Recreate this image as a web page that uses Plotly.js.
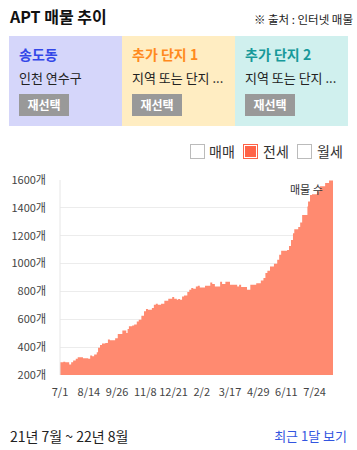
<!DOCTYPE html>
<html><head><meta charset="utf-8">
<script src="https://cdn.plot.ly/plotly-3.0.1.min.js"></script>
<style>
html,body{margin:0;padding:0;background:#fff;}
body{width:357px;height:450px;position:relative;overflow:hidden;font-family:"Noto Sans CJK KR","Noto Sans",sans-serif;color:#222;}
#chart{position:absolute;left:0;top:0;width:357px;height:450px;}
.abs{position:absolute;white-space:nowrap;z-index:2;}
.box{position:absolute;top:36px;height:90px;width:113px;z-index:1;}
.bt{position:absolute;left:10px;top:8px;font-size:14px;font-weight:bold;line-height:20px;}
.bs{position:absolute;left:10px;top:33px;font-size:13px;line-height:18px;color:#222;}
.btn{position:absolute;left:10px;top:58px;width:50px;height:22px;background:#999;color:#fff;font-size:12px;font-weight:bold;line-height:22px;text-align:center;}
.cb{position:absolute;top:144px;width:13px;height:13px;border:1px solid #bbb;background:#fff;z-index:2;}
.cbl{position:absolute;top:141px;font-size:14px;line-height:20px;color:#333;z-index:2;}
</style></head>
<body>
<div id="chart"></div>
<div class="abs" style="left:10px;top:4px;font-size:16px;font-weight:bold;line-height:24px;color:#111;">APT 매물 추이</div>
<div class="abs" style="right:4px;top:10px;font-size:11.5px;line-height:18px;color:#222;">※ 출처 : 인터넷 매물</div>
<div class="box" style="left:9px;background:#D5D6FA;">
  <div class="bt" style="color:#3347E8;">송도동</div>
  <div class="bs">인천 연수구</div>
  <div class="btn">재선택</div>
</div>
<div class="box" style="left:122px;background:#FFEDC2;">
  <div class="bt" style="color:#FF8A1E;">추가 단지 1</div>
  <div class="bs">지역 또는 단지 ...</div>
  <div class="btn">재선택</div>
</div>
<div class="box" style="left:235px;background:#D0F0EE;">
  <div class="bt" style="color:#17999A;">추가 단지 2</div>
  <div class="bs">지역 또는 단지 ...</div>
  <div class="btn">재선택</div>
</div>
<div class="cb" style="left:190px;"></div><div class="cbl" style="left:209px;">매매</div>
<div class="cb" style="left:243px;background:#FF6347;border-color:#FF6347;box-shadow:inset 0 0 0 1px #fff;"></div><div class="cbl" style="left:263px;">전세</div>
<div class="cb" style="left:297px;"></div><div class="cbl" style="left:317px;">월세</div>
<div class="abs" style="left:10px;top:426px;font-size:14px;line-height:20px;color:#222;">21년 7월 ~ 22년 8월</div>
<div class="abs" style="right:10px;top:427px;font-size:13px;line-height:18px;color:#3355E0;">최근 1달 보기</div>
<script>
// 전세 매물 수 (step values)
const dates = [
 '2021-07-01','2021-07-06','2021-07-09','2021-07-15','2021-07-18','2021-07-21','2021-07-25','2021-07-28',
 '2021-08-05','2021-08-13','2021-08-16','2021-08-19','2021-08-22','2021-08-26','2021-08-28','2021-08-31',
 '2021-09-03','2021-09-08','2021-09-12','2021-09-15','2021-09-23','2021-09-27',
 '2021-10-04','2021-10-10','2021-10-12','2021-10-14','2021-10-19','2021-10-22','2021-10-26','2021-10-29',
 '2021-11-02','2021-11-06','2021-11-09','2021-11-12','2021-11-18','2021-11-21','2021-11-24','2021-11-27',
 '2021-12-02','2021-12-07','2021-12-13','2021-12-19','2021-12-22','2021-12-26','2021-12-28','2021-12-31',
 '2022-01-03','2022-01-06','2022-01-11','2022-01-14','2022-01-17','2022-01-20','2022-01-24','2022-01-27','2022-01-30',
 '2022-02-07','2022-02-15','2022-02-18','2022-02-22',
 '2022-03-02','2022-03-05','2022-03-10','2022-03-17','2022-03-28','2022-03-31',
 '2022-04-03','2022-04-12','2022-04-17','2022-04-26',
 '2022-05-03','2022-05-07','2022-05-10','2022-05-13','2022-05-17','2022-05-23','2022-05-28','2022-05-31',
 '2022-06-03','2022-06-12','2022-06-15','2022-06-18','2022-06-21','2022-06-23','2022-06-29',
 '2022-07-02','2022-07-05','2022-07-13','2022-07-14','2022-07-17','2022-07-20','2022-07-28',
 '2022-08-01','2022-08-09','2022-08-15','2022-08-21'
];
const listings = [
 292,296,292,275,292,304,316,327,
 320,316,340,335,347,363,395,416,
 426,430,454,449,463,495,
 519,502,531,550,555,562,585,597,
 626,657,674,669,681,705,712,705,
 712,733,748,760,748,740,745,740,
 764,771,796,812,824,819,836,841,829,
 841,865,853,836,
 870,853,870,848,836,848,
 831,812,848,858,
 879,896,932,948,979,998,1027,1063,
 1092,1098,1127,1170,1218,1247,1262,
 1294,1349,1409,1445,1493,1497,1519,
 1555,1579,1596,1596
];
const tickDates = ['2021-07-01','2021-08-14','2021-09-26','2021-11-08','2021-12-21','2022-02-02','2022-03-17','2022-04-29','2022-06-11','2022-07-24'];
const tickLabels = ['7/1','8/14','9/26','11/8','12/21','2/2','3/17','4/29','6/11','7/24'];
const yTicks = [200,400,600,800,1000,1200,1400,1600];
const yTickLabels = ['200개','400개','600개','800개','1000개','1200개','1400개','1600개'];
const seriesLabel = '매물 수';

const font = '"Noto Sans CJK KR","Noto Sans",sans-serif';
Plotly.newPlot('chart', [{
  x: dates, y: listings, type: 'scatter', mode: 'lines',
  line: {shape: 'hv', width: 0, color: '#FF8A70'},
  fill: 'tozeroy', fillcolor: '#FF8A70', hoverinfo: 'skip', showlegend: false
}], {
  width: 357, height: 450,
  margin: {l: 60, r: 24, t: 180, b: 75},
  paper_bgcolor: 'rgba(0,0,0,0)', plot_bgcolor: '#fff',
  font: {family: font, size: 11, color: '#444'},
  xaxis: {
    type: 'date', range: ['2021-07-01', '2022-08-21'],
    tickvals: tickDates, ticktext: tickLabels,
    showgrid: false, zeroline: false, showline: false, ticks: '',
    ticklabelstandoff: 9, tickfont: {size: 11, color: '#444'}
  },
  yaxis: {
    range: [200, 1600], tickvals: yTicks, ticktext: yTickLabels,
    showgrid: true, gridcolor: '#ececec', gridwidth: 1, zeroline: false,
    showline: false, ticks: '', ticklabelstandoff: 13,
    tickfont: {size: 11, color: '#444'}
  },
  shapes: [{type: 'line', xref: 'paper', yref: 'paper', x0: 0, x1: 0, y0: 0, y1: 1,
            line: {color: '#e6e6e6', width: 1}, layer: 'above'}],
  annotations: [{
    text: seriesLabel, xref: 'paper', yref: 'paper', x: 0.97, y: 0.955,
    xanchor: 'right', yanchor: 'middle', showarrow: false,
    font: {size: 11, color: '#333', family: font}
  }]
}, {staticPlot: true});
</script>
</body></html>
